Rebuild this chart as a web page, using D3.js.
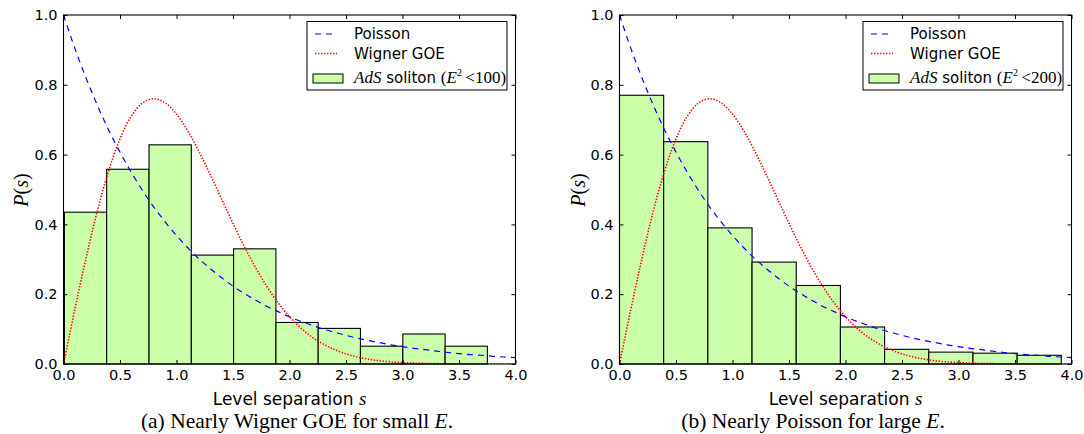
<!DOCTYPE html>
<html>
<head>
<meta charset="utf-8">
<script src="https://cdn.jsdelivr.net/npm/d3@7"></script>
<style>
  html, body { margin: 0; padding: 0; background: #fff; }
  svg { display: block; }
</style>
</head>
<body>
<svg id="chart" width="1084" height="434"></svg>
<script>
// ---------------- DATA ----------------
const xTicks = [0.0, 0.5, 1.0, 1.5, 2.0, 2.5, 3.0, 3.5, 4.0];
const yTicks = [0.0, 0.2, 0.4, 0.6, 0.8, 1.0];

// Histogram (a): small E
const edgesA = [0.008, 0.382, 0.757, 1.131, 1.505, 1.880, 2.254, 2.628, 3.003, 3.377, 3.751];
const heightsA = [0.435, 0.558, 0.628, 0.312, 0.330, 0.119, 0.102, 0.051, 0.086, 0.051];

// Histogram (b): large E
const edgesB = [0.000, 0.391, 0.782, 1.173, 1.564, 1.955, 2.346, 2.737, 3.128, 3.519, 3.910];
const heightsB = [0.770, 0.637, 0.390, 0.292, 0.225, 0.106, 0.042, 0.034, 0.031, 0.025];

// Reference curves
const sGrid = [0.0,0.1,0.2,0.3,0.4,0.5,0.6,0.7,0.8,0.9,1.0,1.1,1.2,1.3,1.4,1.5,1.6,1.7,1.8,1.9,2.0,
               2.1,2.2,2.3,2.4,2.5,2.6,2.7,2.8,2.9,3.0,3.1,3.2,3.3,3.4,3.5,3.6,3.7,3.8,3.9,4.0];
const poissonP = [1.000,0.905,0.819,0.741,0.670,0.607,0.549,0.497,0.449,0.407,0.368,0.333,0.301,0.273,
                  0.247,0.223,0.202,0.183,0.165,0.150,0.135,0.122,0.111,0.100,0.091,0.082,0.074,0.067,
                  0.061,0.055,0.050,0.045,0.041,0.037,0.033,0.030,0.027,0.025,0.022,0.020,0.018];
const wignerP = [0.000,0.156,0.304,0.439,0.554,0.645,0.710,0.748,0.760,0.748,0.716,0.668,0.608,0.542,
                 0.472,0.403,0.337,0.276,0.222,0.175,0.136,0.103,0.077,0.057,0.041,0.029,0.020,0.014,
                 0.009,0.006,0.004,0.0025,0.0016,0.0010,0.0006,0.0004,0.0002,0.0001,0.0001,0.0,0.0];

const panels = [
  { id: "a", edges: edgesA, heights: heightsA, x0: 63.5, x1: 515.5,
    eMax: "100", caption: ["(a) Nearly Wigner GOE for small ", "E", "."], capX: 297,
    legendX: 307, ylabX: 22 },
  { id: "b", edges: edgesB, heights: heightsB, x0: 619.5, x1: 1071.5,
    eMax: "200", caption: ["(b) Nearly Poisson for large ", "E", "."], capX: 813,
    legendX: 863, ylabX: 579 }
];

// ---------------- DRAW ----------------
const svg = d3.select("#chart");
const yTop = 15, yBot = 364;
const sans = "'DejaVu Sans', sans-serif";
const serif = "'Liberation Serif', 'DejaVu Serif', serif";
const fill = "#ccffaa";

panels.forEach(p => {
  const x = d3.scaleLinear().domain([0, 4]).range([p.x0, p.x1]);
  const y = d3.scaleLinear().domain([0, 1]).range([yBot, yTop]);
  const g = svg.append("g");

  g.append("clipPath").attr("id", "clip" + p.id)
    .append("rect").attr("x", p.x0).attr("y", yTop).attr("width", p.x1 - p.x0).attr("height", yBot - yTop);

  // bars
  const bins = p.heights.map((h, i) => ({ a: p.edges[i], b: p.edges[i + 1], h }));
  g.append("g").selectAll("rect").data(bins).join("rect")
    .attr("x", d => x(d.a)).attr("width", d => x(d.b) - x(d.a))
    .attr("y", d => y(d.h)).attr("height", d => y(0) - y(d.h))
    .attr("fill", fill).attr("stroke", "#000").attr("stroke-width", 1.1);

  // curves
  const line = d3.line().x(d => x(d[0])).y(d => y(d[1])).curve(d3.curveCatmullRom);
  const cg = g.append("g").attr("clip-path", `url(#clip${p.id})`);
  cg.append("path").datum(sGrid.map((s, i) => [s, poissonP[i]]))
    .attr("d", line).attr("fill", "none").attr("stroke", "#0000ff")
    .attr("stroke-width", 1.2).attr("stroke-dasharray", "6,5");
  cg.append("path").datum(sGrid.map((s, i) => [s, wignerP[i]]))
    .attr("d", line).attr("fill", "none").attr("stroke", "#ff0000")
    .attr("stroke-width", 1.6).attr("stroke-dasharray", "1.4,1.6");

  // axes (inward ticks on all sides)
  const fmt = d3.format(".1f");
  const axB = g.append("g").attr("transform", `translate(0,${yBot})`)
    .call(d3.axisBottom(x).tickValues(xTicks).tickFormat(fmt).tickSizeInner(-4).tickSizeOuter(0).tickPadding(6));
  const axT = g.append("g").attr("transform", `translate(0,${yTop})`)
    .call(d3.axisTop(x).tickValues(xTicks).tickFormat("").tickSizeInner(-4).tickSizeOuter(0));
  const axL = g.append("g").attr("transform", `translate(${p.x0},0)`)
    .call(d3.axisLeft(y).tickValues(yTicks).tickFormat(fmt).tickSizeInner(-4).tickSizeOuter(0).tickPadding(6));
  const axR = g.append("g").attr("transform", `translate(${p.x1},0)`)
    .call(d3.axisRight(y).tickValues(yTicks).tickFormat("").tickSizeInner(-4).tickSizeOuter(0));
  [axB, axT, axL, axR].forEach(a => {
    a.select(".domain").remove();
    a.selectAll("line").attr("stroke", "#000");
    a.selectAll("text").attr("font-family", sans).attr("font-size", 14.5).attr("fill", "#000");
  });

  // frame
  g.append("rect").attr("x", p.x0).attr("y", yTop).attr("width", p.x1 - p.x0).attr("height", yBot - yTop)
    .attr("fill", "none").attr("stroke", "#000").attr("stroke-width", 1.1);

  // x label
  const xl = g.append("text").attr("x", (p.x0 + p.x1) / 2).attr("y", 405)
    .attr("text-anchor", "middle").attr("font-family", sans).attr("font-size", 17);
  xl.append("tspan").text("Level separation ");
  xl.append("tspan").attr("font-family", serif).attr("font-style", "italic").attr("font-size", 19).text("s");

  // y label
  const yl = g.append("text").attr("transform", `translate(${p.ylabX + 6},190) rotate(-90)`)
    .attr("text-anchor", "middle").attr("font-family", serif).attr("font-size", 20);
  yl.append("tspan").attr("font-style", "italic").text("P");
  yl.append("tspan").text("(");
  yl.append("tspan").attr("font-style", "italic").text("s");
  yl.append("tspan").text(")");

  // caption
  const cap = g.append("text").attr("x", p.capX).attr("y", 428).attr("text-anchor", "middle")
    .attr("font-family", serif).attr("font-size", 21.5);
  cap.append("tspan").text(p.caption[0]);
  cap.append("tspan").attr("font-style", "italic").text(p.caption[1]);
  cap.append("tspan").text(p.caption[2]);

  // legend
  const lx = p.legendX;
  const lg = g.append("g");
  lg.append("rect").attr("x", lx).attr("y", 21.5).attr("width", 200).attr("height", 68.5)
    .attr("fill", "#fff").attr("stroke", "#000").attr("stroke-width", 1);
  lg.append("line").attr("x1", lx + 8).attr("x2", lx + 30).attr("y1", 34).attr("y2", 34)
    .attr("stroke", "#0000ff").attr("stroke-width", 1.2).attr("stroke-dasharray", "6,5");
  lg.append("line").attr("x1", lx + 8).attr("x2", lx + 30).attr("y1", 53.5).attr("y2", 53.5)
    .attr("stroke", "#ff0000").attr("stroke-width", 1.6).attr("stroke-dasharray", "1.4,1.6");
  lg.append("rect").attr("x", lx + 6).attr("y", 74).attr("width", 30).attr("height", 9)
    .attr("fill", fill).attr("stroke", "#000").attr("stroke-width", 1);
  lg.append("text").attr("x", lx + 47).attr("y", 39).attr("font-family", sans).attr("font-size", 15).text("Poisson");
  lg.append("text").attr("x", lx + 47).attr("y", 59).attr("font-family", sans).attr("font-size", 15).text("Wigner GOE");
  const t3 = lg.append("text").attr("x", lx + 47).attr("y", 83).attr("font-size", 15);
  t3.append("tspan").attr("font-family", serif).attr("font-style", "italic").attr("font-size", 17).text("AdS");
  t3.append("tspan").attr("font-family", sans).text(" soliton ");
  t3.append("tspan").attr("font-family", serif).attr("font-size", 17).text("(");
  t3.append("tspan").attr("font-family", serif).attr("font-style", "italic").attr("font-size", 17).text("E");
  t3.append("tspan").attr("font-family", serif).attr("font-size", 10).attr("dy", -7).text("2");
  t3.append("tspan").attr("font-family", serif).attr("font-size", 17).attr("dy", 7).text("\u2009<" + p.eMax + ")");
});
</script>
</body>
</html>
